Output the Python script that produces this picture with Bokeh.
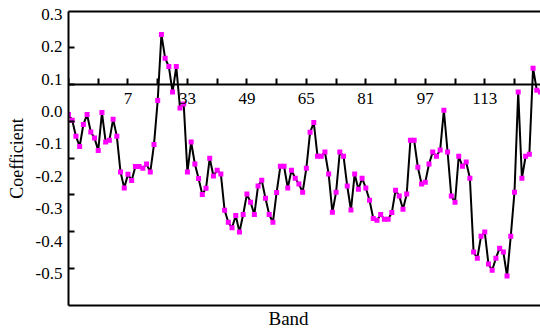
from bokeh.plotting import figure
from bokeh.models import LinearAxis, FixedTicker, Range1d, Title, NumeralTickFormatter
from bokeh.embed import file_html
from bokeh.resources import INLINE

bands = list(range(1, 129))
coef = [
    -0.009, -0.027, -0.076, -0.108, -0.040, -0.009, -0.063, -0.082, -0.120, -0.003,
    -0.094, -0.089, -0.024, -0.076, -0.187, -0.236, -0.194, -0.213, -0.170, -0.170,
    -0.175, -0.162, -0.187, -0.102, 0.034, 0.238, 0.165, 0.139, 0.060, 0.139,
    0.011, 0.023, -0.187, -0.094, -0.162, -0.207, -0.256, -0.237, -0.144, -0.199,
    -0.181, -0.193, -0.305, -0.342, -0.359, -0.321, -0.372, -0.318, -0.255, -0.280,
    -0.318, -0.230, -0.212, -0.268, -0.318, -0.342, -0.250, -0.169, -0.169, -0.236,
    -0.181, -0.206, -0.224, -0.249, -0.175, -0.064, -0.034, -0.138, -0.138, -0.125,
    -0.193, -0.311, -0.249, -0.125, -0.138, -0.230, -0.304, -0.193, -0.240, -0.206,
    -0.236, -0.274, -0.330, -0.336, -0.318, -0.333, -0.333, -0.312, -0.243, -0.261,
    -0.302, -0.255, -0.089, -0.089, -0.172, -0.224, -0.218, -0.162, -0.125, -0.138,
    -0.119, 0.004, -0.125, -0.261, -0.280, -0.138, -0.169, -0.156, -0.206, -0.434,
    -0.453, -0.385, -0.372, -0.471, -0.490, -0.453, -0.422, -0.434, -0.508, -0.385,
    -0.249, 0.060, -0.206, -0.138, -0.132, 0.134, 0.066, 0.060,
]

y_ticks = [0.3, 0.2, 0.1, 0.0, -0.1, -0.2, -0.3, -0.4, -0.5]
y_tick_marks = [0.198, 0.084, -0.030, -0.145, -0.256, -0.370, -0.485]
x_label_ticks = [17, 33, 49, 65, 81, 97, 113]
x_label_text = ["7", "33", "49", "65", "81", "97", "113"]
x_minor_ticks = [1, 9, 25, 41, 57, 73, 89, 105, 121]
axis_cross = 0.085

FONT = "Liberation Serif"

p = figure(width=540, height=332, x_range=Range1d(1, 128), y_range=Range1d(-0.599, 0.309),
           output_backend="svg", toolbar_location=None, x_axis_type=None,
           min_border_left=68, min_border_right=0, min_border_top=11, min_border_bottom=27)
p.outline_line_color = None
p.xgrid.visible = False
p.ygrid.visible = False
p.background_fill_color = "white"
p.border_fill_color = "white"

# left axis
ya = p.yaxis[0]
ya.ticker = FixedTicker(ticks=y_ticks, minor_ticks=y_tick_marks)
ya.formatter = NumeralTickFormatter(format="0.0")
ya.major_tick_in = 0
ya.major_tick_out = 0
ya.minor_tick_in = 6
ya.minor_tick_out = 0
ya.minor_tick_line_width = 2
ya.minor_tick_line_color = "black"
ya.axis_line_width = 2
ya.major_label_standoff = 6
ya.major_label_text_font = FONT
ya.major_label_text_font_size = "17px"
ya.major_label_text_color = "black"
ya.axis_label = "Coefficient"
ya.axis_label_text_font = FONT
ya.axis_label_text_font_size = "18px"
ya.axis_label_text_font_style = "normal"
ya.axis_label_text_color = "black"
ya.axis_label_standoff = 6

# top border
top = LinearAxis(ticker=FixedTicker(ticks=[]), axis_line_width=2,
                 major_tick_in=0, major_tick_out=0, minor_tick_in=0, minor_tick_out=0)
p.add_layout(top, "above")

# bottom border
bot = LinearAxis(ticker=FixedTicker(ticks=[]), axis_line_width=2,
                 major_tick_in=0, major_tick_out=0, minor_tick_in=0, minor_tick_out=0)
p.add_layout(bot, "below")

# crossing axis
mid = LinearAxis(ticker=FixedTicker(ticks=x_label_ticks, minor_ticks=x_minor_ticks),
                 fixed_location=axis_cross,
                 major_label_overrides=dict(zip(x_label_ticks, x_label_text)))
mid.major_tick_in = 6
mid.major_tick_out = 0
mid.minor_tick_in = 6
mid.minor_tick_out = 0
mid.axis_line_width = 2
mid.major_tick_line_width = 2
mid.minor_tick_line_width = 2
mid.minor_tick_line_color = "black"
mid.major_label_standoff = 9
mid.major_label_text_font = FONT
mid.major_label_text_font_size = "17px"
mid.major_label_text_color = "black"
p.add_layout(mid, "below")

p.add_layout(Title(text="Band", align="left", offset=200, text_font=FONT,
                   text_font_size="19px", text_font_style="normal", standoff=0,
                   text_color="black"), "below")

p.line(bands, coef, line_color="black", line_width=2)
p.scatter(bands, coef, marker="square", size=5, fill_color="#FF00FF", line_color=None)

open("out.html", "w").write(file_html(p, INLINE))
